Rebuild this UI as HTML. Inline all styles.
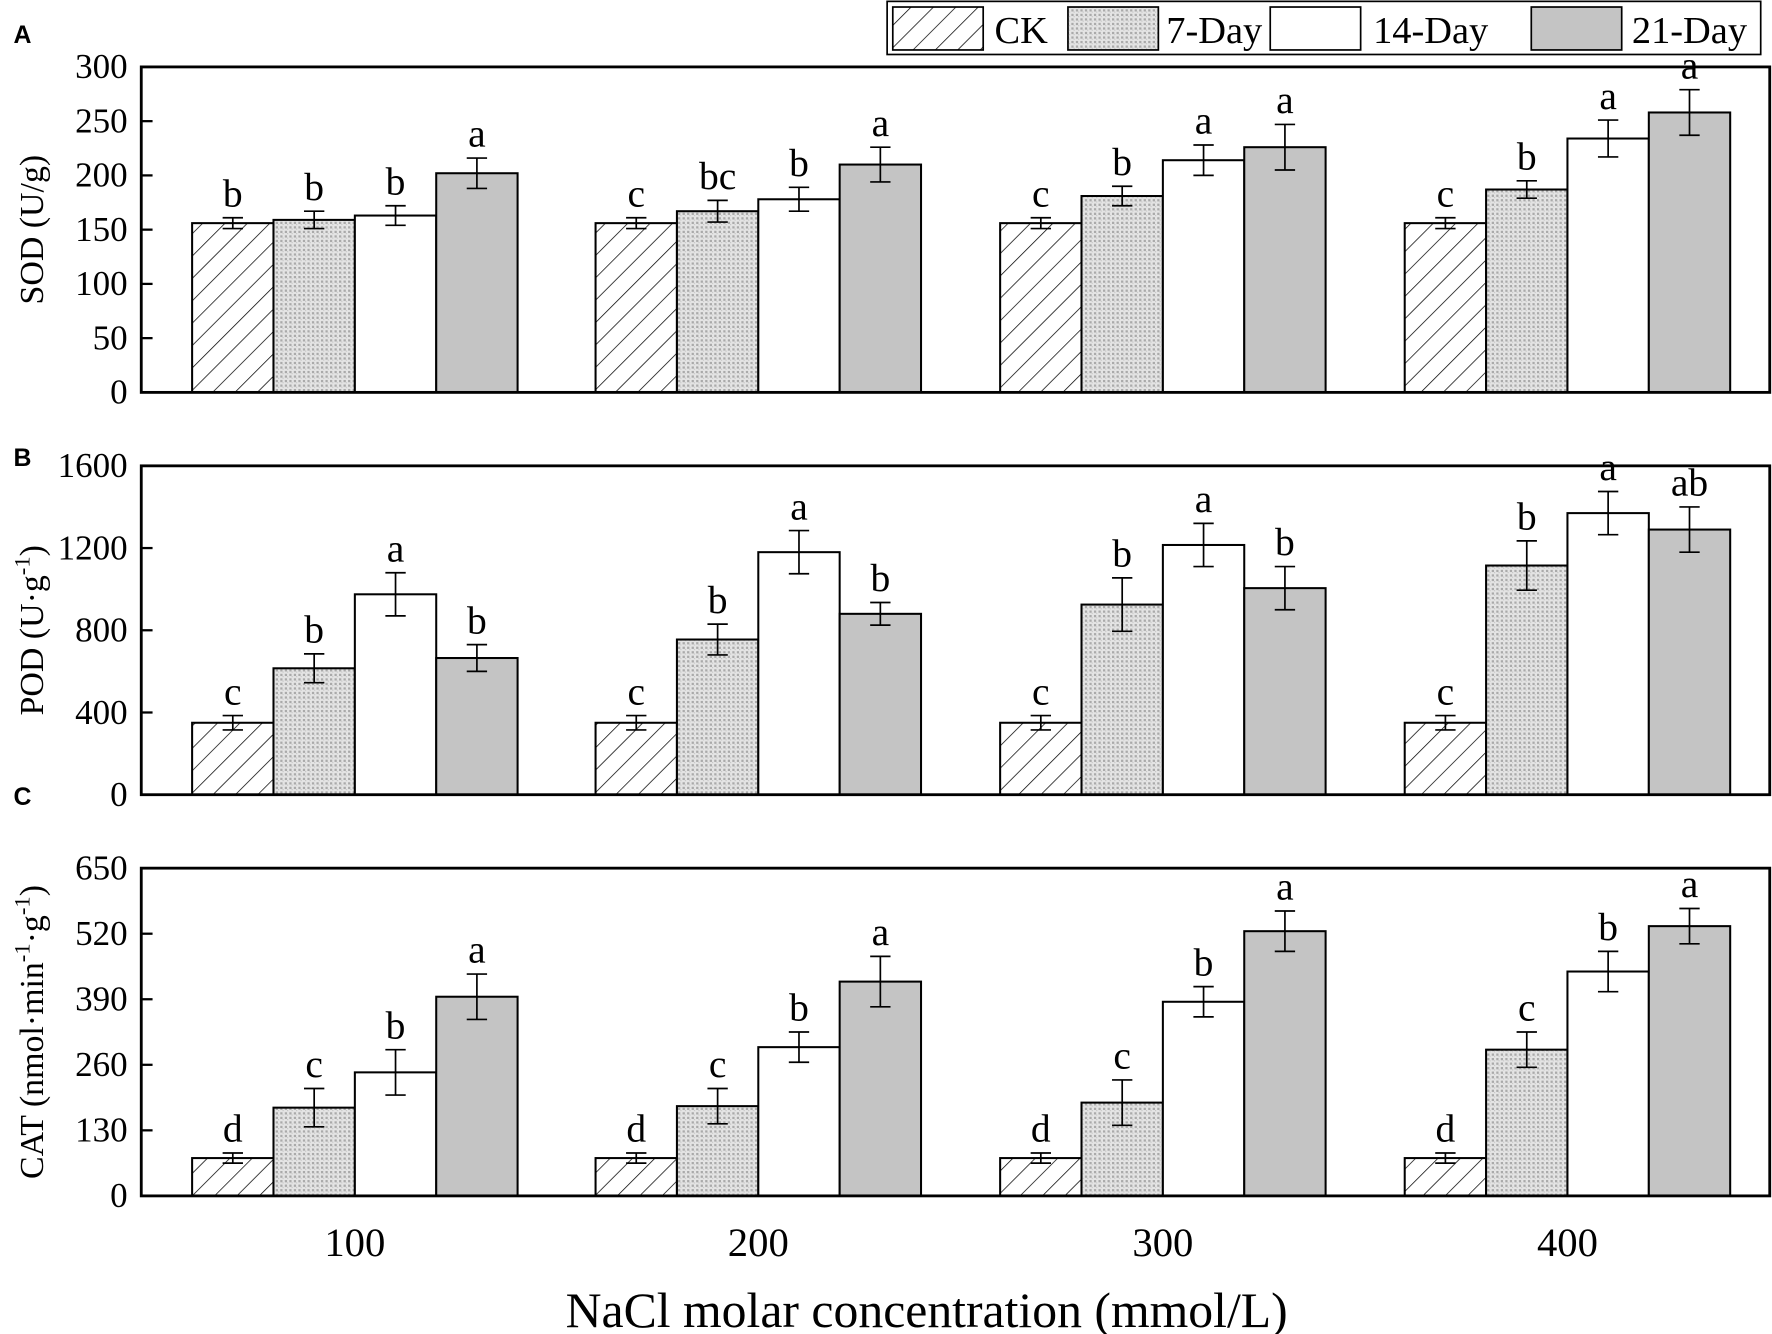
<!DOCTYPE html>
<html><head><meta charset="utf-8"><style>body{margin:0;background:#fff}svg{display:block}</style></head>
<body>
<svg id="chart" width="1772" height="1334" viewBox="0 0 1568 1180" xmlns="http://www.w3.org/2000/svg" font-family="'Liberation Serif', serif">
<defs>
<pattern id="hatch" patternUnits="userSpaceOnUse" width="14" height="14" patternTransform="rotate(45)"><line x1="0" y1="0" x2="0" y2="14" stroke="#000" stroke-width="1.3"/></pattern>
<pattern id="dots" patternUnits="userSpaceOnUse" width="4" height="4"><rect width="4" height="4" fill="#e4e4e4"/><rect width="2" height="2" fill="#aaa"/><rect x="2" y="2" width="1" height="1" fill="#c4c4c4"/></pattern>
</defs>
<g id="legend">
<rect x="785" y="1" width="773" height="47" fill="#fff" stroke="#000" stroke-width="1.5"/>
<rect x="790" y="6" width="80" height="38" fill="url(#hatch)" stroke="#000" stroke-width="1.5"/>
<text x="880" y="38" font-size="34">CK</text>
<rect x="945" y="6" width="80" height="38" fill="url(#dots)" stroke="#000" stroke-width="1.5"/>
<text x="1032" y="38" font-size="34">7-Day</text>
<rect x="1124" y="6" width="80" height="38" fill="#fff" stroke="#000" stroke-width="1.5"/>
<text x="1215" y="38" font-size="34">14-Day</text>
<rect x="1355" y="6" width="80" height="38" fill="#c4c4c4" stroke="#000" stroke-width="1.5"/>
<text x="1444" y="38" font-size="34">21-Day</text>
</g>
<g id="plots"></g>
<text x="820" y="1174" text-anchor="middle" font-size="44">NaCl molar concentration (mmol/L)</text>
</svg>
<script>
const groups=["100","200","300","400"];
const seriesNames=["CK","7-Day","14-Day","21-Day"];
const sodVals=[[156,156,156,156],[159,167,181,187],[163,178,214,234],[202,210,226,258]];
const sodErr=[[5,5,5,5],[8,10,9,8],[9,11,14,17],[14,16,21,21]];
const sodLetters=[["b","c","c","c"],["b","bc","b","b"],["b","b","a","a"],["a","a","a","a"]];
const sodTicks=[0,50,100,150,200,250,300];
const podVals=[[350,350,350,350],[615,755,925,1115],[975,1180,1215,1370],[665,880,1005,1290]];
const podErr=[[35,35,35,35],[70,75,130,120],[105,105,105,105],[65,55,105,110]];
const podLetters=[["c","c","c","c"],["b","b","b","b"],["a","a","a","a"],["b","b","b","ab"]];
const podTicks=[0,400,800,1200,1600];
const catVals=[[75,75,75,75],[175,178,185,290],[245,295,385,445],[395,425,525,535]];
const catErr=[[10,10,10,10],[38,35,45,35],[45,30,30,40],[45,50,40,35]];
const catLetters=[["d","d","d","d"],["c","c","c","c"],["b","b","b","b"],["a","a","a","a"]];
const catTicks=[0,130,260,390,520,650];

const NS="http://www.w3.org/2000/svg";
const root=document.getElementById('plots');
function mk(t,a,p){const e=document.createElementNS(NS,t);for(const k in a)e.setAttribute(k,a[k]);(p||root).appendChild(e);return e;}
const fills=["url(#hatch)","url(#dots)","#fff","#c4c4c4"];
const L=125,R=1566,centers=[314,671,1029,1387],bw=72;
function panel(key,top,bot,max,vals,errs,letters,ticks,title,tspans,tag,tagY,showX){
  const g=mk('g',{});
  
  
  const y=v=>bot-(v/max)*(bot-top);
  const t=mk('text',{x:12,y:tagY,'font-size':22,'font-weight':'bold','font-family':"'Liberation Sans',sans-serif"},g);t.textContent=tag;
  
  
  ticks.forEach(v=>{
    const l=mk('line',{x1:L,x2:L+10,y1:y(v),y2:y(v),stroke:'#000','stroke-width':2},g);
    
    
    const tx=mk('text',{x:L-12,y:y(v)+10,'text-anchor':'end','font-size':31},g);tx.textContent=v;
    
    
  });
  for(let s=0;s<4;s++)for(let i=0;i<4;i++){
    const x0=centers[i]-2*bw+s*bw,v=vals[s][i],e=errs[s][i];
    const b=mk('rect',{x:x0,y:y(v),width:bw,height:bot-y(v),fill:fills[s],stroke:'#000','stroke-width':1.8},g);
    
    
    const cx=x0+bw/2,yt=y(v+e),yb=y(v-e);
    const eb=mk('path',{d:`M${cx},${yt}V${yb}M${cx-9},${yt}H${cx+9}M${cx-9},${yb}H${cx+9}`,stroke:'#000','stroke-width':1.5,fill:'none'},g);
    
    
    const lt=mk('text',{x:cx,y:yt-10,'text-anchor':'middle','font-size':35},g);lt.textContent=letters[s][i];
    
    
  }
  const fr=mk('rect',{x:L,y:top,width:R-L,height:bot-top,fill:'none',stroke:'#000','stroke-width':2.5},g);
  
  
  const cy=(top+bot)/2;
  const yt=mk('text',{transform:`translate(38,${cy}) rotate(-90)`,'text-anchor':'middle','font-size':30},g);
  yt.innerHTML=title;
  
  
  if(showX)groups.forEach((gname,i)=>{
    const tx=mk('text',{x:centers[i],y:bot+53,'text-anchor':'middle','font-size':36},g);tx.textContent=gname;
    
    
  });
}
panel('sod',59,347,300,sodVals,sodErr,sodLetters,sodTicks,'SOD (U/g)',0,'A',38,false);
panel('pod',412,703,1600,podVals,podErr,podLetters,podTicks,'POD (U·g<tspan dy="-12" font-size="20">-1</tspan><tspan dy="12">)</tspan>',0,'B',412,false);
panel('cat',768,1058,650,catVals,catErr,catLetters,catTicks,'CAT (nmol·min<tspan dy="-12" font-size="20">-1</tspan><tspan dy="12">·g</tspan><tspan dy="-12" font-size="20">-1</tspan><tspan dy="12">)</tspan>',0,'C',712,true);
</script>
</body></html>
